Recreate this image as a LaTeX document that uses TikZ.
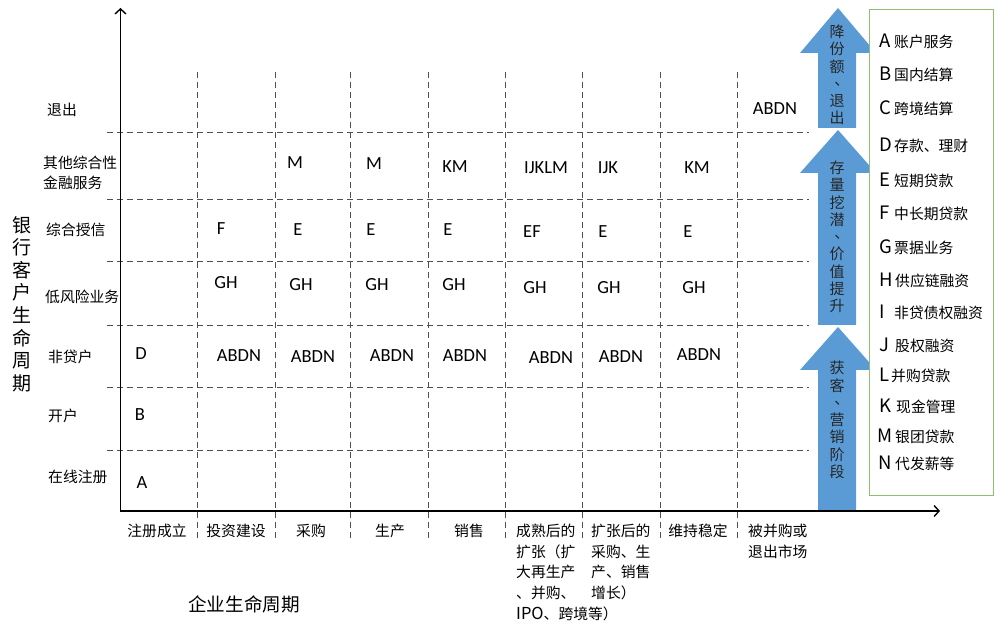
\documentclass[tikz,border=0pt]{standalone}
\usepackage{fontspec}
\setmainfont{Carlito}
\newfontfamily\cjkf{Noto Sans CJK SC}
\usetikzlibrary{arrows.meta}
\newcommand\ltxt{\fontsize{18.5}{21}\selectfont}
\newcommand\ctxt{\cjkf\fontsize{14.8}{20.6}\selectfont}
\newcommand\vdun{\makebox[1em][l]{\kern0.33em\raisebox{0.28em}[0.5em][0pt]{、}}}
\definecolor{arrowblue}{HTML}{5B9BD5}
\definecolor{legendgreen}{HTML}{8CC070}
\definecolor{gridgray}{HTML}{4F4F4F}
\begin{document}
\begin{tikzpicture}[x=1pt,y=-1pt,
  cell/.style={inner sep=0, font=\ltxt},
  rowlab/.style={anchor=west, inner sep=0, font=\ctxt, align=left},
  collab/.style={inner sep=0, font=\ctxt, align=left},
  gridline/.style={gridgray, line width=1pt, dash pattern=on 6pt off 4pt},
  axis/.style={black, line width=1.4pt, -{Straight Barb[length=5pt,width=11pt]}},
  bigarrow/.style={fill=arrowblue},
  arrowtext/.style={inner sep=0, align=center, font={\cjkf\fontsize{15}{17.3}\selectfont}, text=black!85},
  legitem/.style={anchor=west, inner sep=0, font=\ctxt}
]
\useasboundingbox (0,0) rectangle (997,636);

% grid
\foreach \yy in {133,200,262,326,388,451} \draw[gridline] (107,\yy) -- (809,\yy);
\foreach \xx in {197,275,350,428,505,582,660,737} \draw[gridline] (\xx,72) -- (\xx,540);

% big arrows
\fill[bigarrow] (818,128) -- (818,53) -- (800,53) -- (838,8) -- (876,53) -- (856,53) -- (856,128) -- cycle;
\fill[bigarrow] (818,325) -- (818,173) -- (800,173) -- (838,130) -- (876,173) -- (856,173) -- (856,325) -- cycle;
\fill[bigarrow] (818,510) -- (818,370) -- (800,370) -- (838,327) -- (876,370) -- (856,370) -- (856,510) -- cycle;
\node[arrowtext] (t1) at (837,75) {降\\份\\额\\\vdun\\退\\出};
\node[arrowtext] (t2) at (837,237) {存\\量\\挖\\潜\\\vdun\\价\\值\\提\\升};
\node[arrowtext] (t3) at (837,420) {获\\客\\\vdun\\营\\销\\阶\\段};

% axes
\coordinate (origin) at (120.5,511);
\coordinate (ytop) at (120.5,8);
\coordinate (xend) at (940,511);
\draw[axis] (origin) -- (ytop);
\draw[axis] (119.8,511) -- (xend);

% axis titles
\node[inner sep=0, align=center, font={\cjkf\fontsize{19}{22.6}\selectfont}] (ytitle) at (22,304) {银\\行\\客\\户\\生\\命\\周\\期};
\node[inner sep=0, font={\cjkf\fontsize{18.6}{22}\selectfont}] (xtitle) at (244,604) {企业生命周期};

% row labels
\node[rowlab] (r1) at (47,110) {退出};
\node[rowlab] (r2) at (43,173) {其他综合性\\金融服务};
\node[rowlab] (r3) at (46,230) {综合授信};
\node[rowlab] (r4) at (45,297) {低风险业务};
\node[rowlab] (r5) at (48,357) {非贷户};
\node[rowlab] (r6) at (48,416) {开户};
\node[rowlab] (r7) at (48,477) {在线注册};

% column labels
\node[collab, anchor=north] (c1) at (157,524) {注册成立};
\node[collab, anchor=north] (c2) at (236,524) {投资建设};
\node[collab, anchor=north] (c3) at (311,524) {采购};
\node[collab, anchor=north] (c4) at (390,524) {生产};
\node[collab, anchor=north] (c5) at (469,524) {销售};
\node[collab, anchor=north west] (c6) at (516,524) {成熟后的\\扩张（扩\\大再生产\\、并购、\\{\fontsize{16.5}{20}\selectfont IPO}、跨境等）};
\node[collab, anchor=north west] (c7) at (591,524) {扩张后的\\采购、生\\产、销售\\增长）};
\node[collab, anchor=north] (c8) at (698,524) {维持稳定};
\node[collab, anchor=north west] (c9) at (748,524) {被并购或\\退出市场};

% cells
\node[cell] (e91) at (775,109) {ABDN};
\node[cell] (m3) at (295,163) {M};
\node[cell] (m4) at (374,164) {M};
\node[cell] (m5) at (455,167) {KM};
\node[cell] (m6) at (546,168) {IJKLM};
\node[cell] (m7) at (608,168) {IJK};
\node[cell] (m8) at (697,168) {KM};
\node[cell] (s2) at (221,229) {F};
\node[cell] (s3) at (298,230) {E};
\node[cell] (s4) at (371,230) {E};
\node[cell] (s5) at (448,230) {E};
\node[cell] (s6) at (532,232) {EF};
\node[cell] (s7) at (603,232) {E};
\node[cell] (s8) at (688,232) {E};
\node[cell] (g2) at (226,283) {GH};
\node[cell] (g3) at (301,285) {GH};
\node[cell] (g4) at (377,285) {GH};
\node[cell] (g5) at (454,285) {GH};
\node[cell] (g6) at (535,288) {GH};
\node[cell] (g7) at (609,288) {GH};
\node[cell] (g8) at (694,288) {GH};
\node[cell] (n1) at (141,354) {D};
\node[cell] (n2) at (239,356) {ABDN};
\node[cell] (n3) at (313,357) {ABDN};
\node[cell] (n4) at (392,356) {ABDN};
\node[cell] (n5) at (465,356) {ABDN};
\node[cell] (n6) at (551,358) {ABDN};
\node[cell] (n7) at (621,357) {ABDN};
\node[cell] (n8) at (699,355) {ABDN};
\node[cell] (k1) at (140,415) {B};
\node[cell] (o1) at (142,483) {A};

% legend
\node[draw=legendgreen, line width=1.3pt, fill=white, minimum width=124pt, minimum height=486pt, anchor=north west, inner sep=0] (legend) at (869,9) {};
\node[legitem] (lA) at (879,41) {\makebox[15pt][l]{\ltxt A}账户服务};
\node[legitem] (lB) at (879,74) {\makebox[15pt][l]{\ltxt B}国内结算};
\node[legitem] (lC) at (879,108) {\makebox[15pt][l]{\ltxt C}跨境结算};
\node[legitem] (lD) at (879,145) {\makebox[15pt][l]{\ltxt D}存款、理财};
\node[legitem] (lE) at (879,180) {\makebox[15pt][l]{\ltxt E}短期贷款};
\node[legitem] (lF) at (879,213) {\makebox[15pt][l]{\ltxt F}中长期贷款};
\node[legitem] (lG) at (879,247) {\makebox[15pt][l]{\ltxt G}票据业务};
\node[legitem] (lH) at (879,280) {\makebox[16pt][l]{\ltxt H}供应链融资};
\node[legitem] (lI) at (879,312) {\makebox[15pt][l]{\ltxt I}非贷债权融资};
\node[legitem] (lJ) at (879,345) {\makebox[16pt][l]{\ltxt J}股权融资};
\node[legitem] (lL) at (879,375) {\makebox[12pt][l]{\ltxt L}并购贷款};
\node[legitem] (lK) at (879,406) {\makebox[17pt][l]{\ltxt K}现金管理};
\node[legitem] (lM) at (877,436) {\makebox[18pt][l]{\ltxt M}银团贷款};
\node[legitem] (lN) at (878,463) {\makebox[17pt][l]{\ltxt N}代发薪等};
\end{tikzpicture}
\end{document}
